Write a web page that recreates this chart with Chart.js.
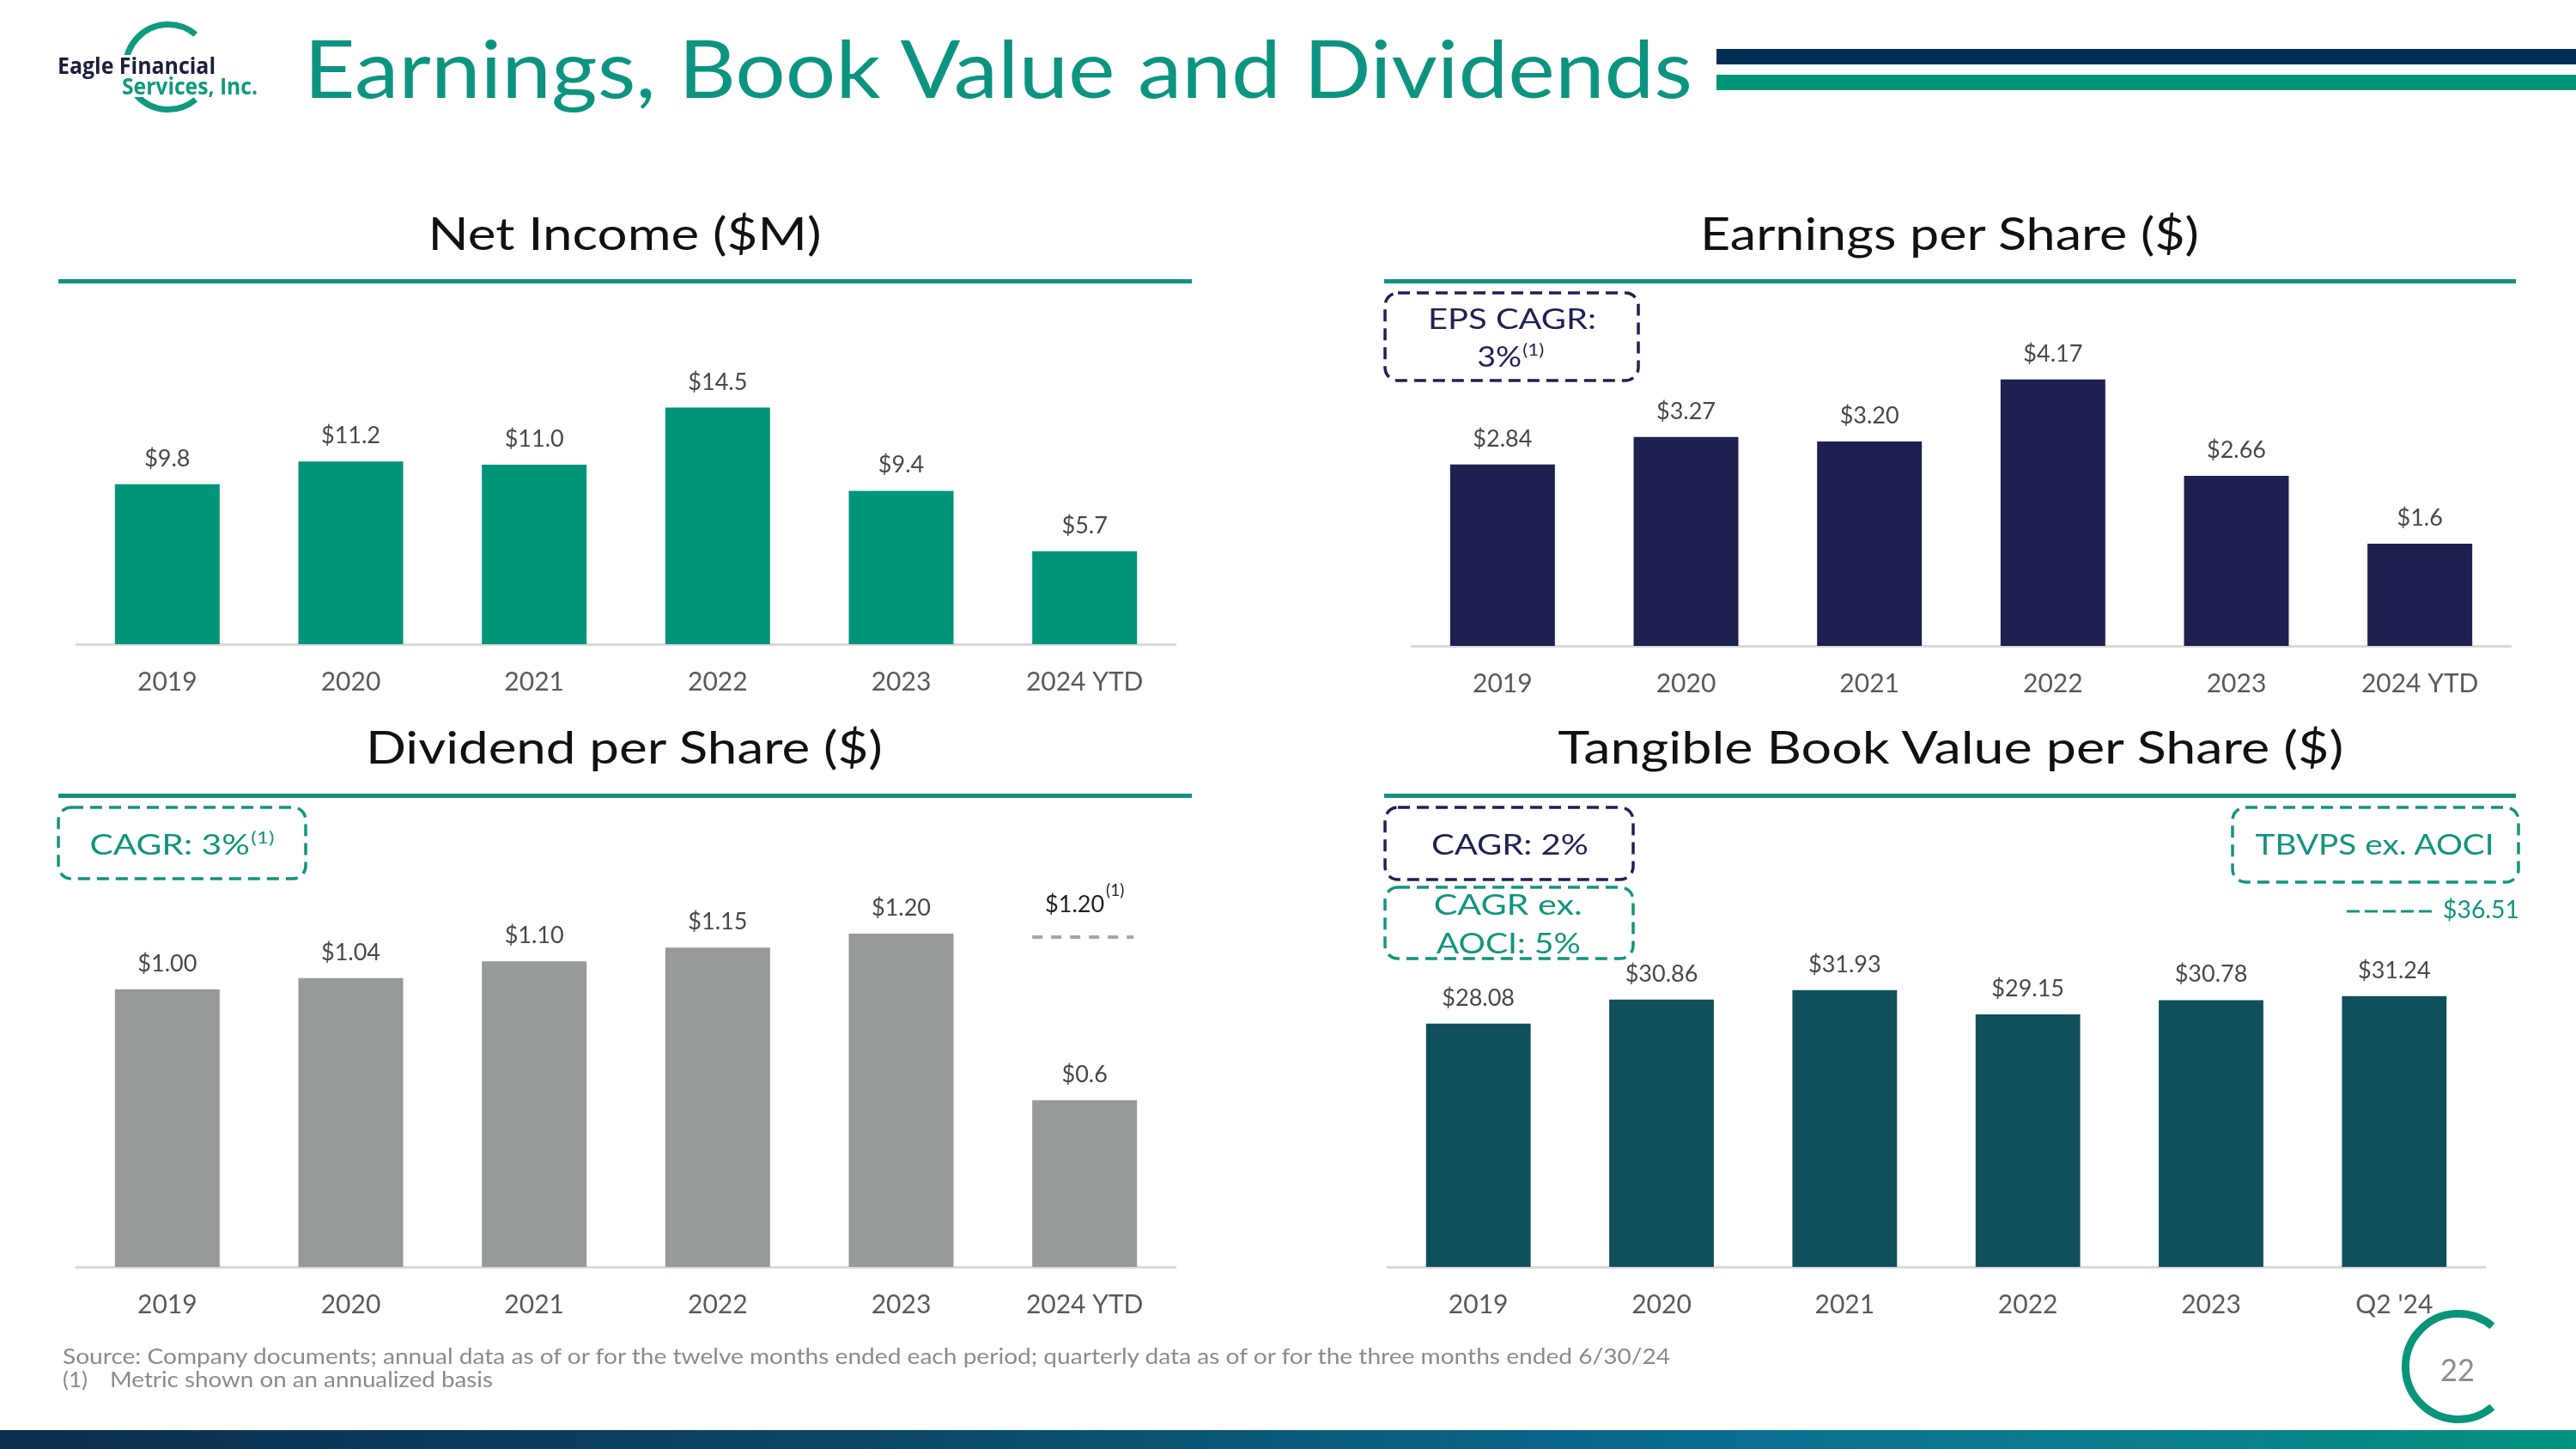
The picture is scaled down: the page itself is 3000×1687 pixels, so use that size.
<!DOCTYPE html>
<html>
<head>
<meta charset="utf-8">
<script src="https://cdn.jsdelivr.net/npm/chart.js@4.4.0/dist/chart.umd.min.js"></script>
<style>
html,body{margin:0;padding:0;background:#fff;}
#page{position:relative;width:3000px;height:1687px;overflow:hidden;background:#fff;font-family:Lato,sans-serif;}
canvas{position:absolute;}
svg{position:absolute;left:0;top:0;}
.t{position:absolute;white-space:nowrap;line-height:1;}
.sup{font-size:0.6em;position:relative;top:-0.65em;margin-left:1px;}
</style>
</head>
<body>
<div id="page">
<canvas id="c1" width="1282" height="460" style="left:88px;top:370px"></canvas>
<canvas id="c2" width="1282" height="452" style="left:1643px;top:380px"></canvas>
<canvas id="c3" width="1282" height="565" style="left:88px;top:990px"></canvas>
<canvas id="c4" width="1280" height="534" style="left:1615px;top:1021px"></canvas>
<svg width="3000" height="1687" viewBox="0 0 3000 1687">
  <defs>
    <linearGradient id="bottomGrad" x1="0" x2="1" y1="0" y2="0">
      <stop offset="0" stop-color="#0c2e50"/>
      <stop offset="0.35" stop-color="#0b4866"/>
      <stop offset="0.65" stop-color="#0b6c90"/>
      <stop offset="0.85" stop-color="#0a7f8e"/>
      <stop offset="1" stop-color="#03937f"/>
    </linearGradient>
  </defs>
  <rect x="0" y="1665" width="3000" height="22" fill="url(#bottomGrad)"/>
  <rect x="1999" y="57" width="1001" height="18" fill="#002f56"/>
  <rect x="1999" y="87" width="1001" height="18" fill="#009479"/>
  <rect x="68" y="325" width="1320" height="5" fill="#12927d"/>
  <rect x="1612" y="325" width="1318" height="5" fill="#12927d"/>
  <rect x="68" y="924" width="1320" height="5" fill="#12927d"/>
  <rect x="1612" y="924" width="1318" height="5" fill="#12927d"/>
  <path d="M 227.8 115.9 A 49.5 49.5 0 1 1 227.8 40.1" fill="none" stroke="#0f9a7c" stroke-width="7"/>
  <rect x="60" y="64" width="246" height="49" fill="#fff"/>
  <path d="M 2902.5 1638.1 A 61.5 61.5 0 1 1 2902.5 1543.9" fill="none" stroke="#0a9479" stroke-width="9"/>
  <g fill="none" stroke-width="3.5" stroke-dasharray="14 8">
    <rect x="1613" y="341" width="295" height="102" rx="15" stroke="#1f2151"/>
    <rect x="68" y="940" width="288" height="83" rx="15" stroke="#12947e"/>
    <rect x="1613" y="940" width="289" height="84" rx="15" stroke="#1f2151"/>
    <rect x="1613" y="1033" width="289" height="83" rx="15" stroke="#12947e"/>
    <rect x="2600" y="940" width="333" height="87" rx="15" stroke="#12947e"/>
  </g>
  <line x1="2733" y1="1061" x2="2833" y2="1061" stroke="#12947e" stroke-width="3" stroke-dasharray="15 6"/>
</svg>
</div>
<script>
// ---------- data ----------
const categories = ['2019', '2020', '2021', '2022', '2023', '2024 YTD'];
const tbvCategories = ['2019', '2020', '2021', '2022', '2023', "Q2 '24"];

const netIncome = [9.8, 11.2, 11.0, 14.5, 9.4, 5.7];
const netIncomeLabels = ['$9.8', '$11.2', '$11.0', '$14.5', '$9.4', '$5.7'];

const eps = [2.84, 3.27, 3.20, 4.17, 2.66, 1.6];
const epsLabels = ['$2.84', '$3.27', '$3.20', '$4.17', '$2.66', '$1.6'];

const dividends = [1.00, 1.04, 1.10, 1.15, 1.20, 0.6];
const dividendLabels = ['$1.00', '$1.04', '$1.10', '$1.15', '$1.20', '$0.6'];
const dividendAnnualized = [null, null, null, null, null, 1.20];
const dividendAnnualizedLabels = [null, null, null, null, null, '$1.20'];

const tbvps = [28.08, 30.86, 31.93, 29.15, 30.78, 31.24];
const tbvpsLabels = ['$28.08', '$30.86', '$31.93', '$29.15', '$30.78', '$31.24'];

// ---------- chart setup ----------
Chart.defaults.font.family = 'Lato, sans-serif';
Chart.defaults.animation = false;

const valueLabels = {
  id: 'valueLabels',
  afterDatasetsDraw(chart, args, opts) {
    const ctx = chart.ctx;
    const meta = chart.getDatasetMeta(0);
    ctx.save();
    ctx.textAlign = 'center';
    ctx.textBaseline = 'alphabetic';
    ctx.font = '27px Lato, sans-serif';
    ctx.fillStyle = '#484848';
    meta.data.forEach((bar, i) => {
      if (opts.texts && opts.texts[i] != null) ctx.fillText(opts.texts[i], bar.x, bar.y - 21);
    });
    if (opts.annualized) {
      const ys = chart.scales.y;
      opts.annualized.forEach((v, i) => {
        if (v == null) return;
        const bar = meta.data[i];
        const y = ys.getPixelForValue(v) + 4;
        const half = bar.width / 2;
        ctx.save();
        ctx.setLineDash([12, 10]);
        ctx.lineWidth = 4;
        ctx.strokeStyle = '#a6a6a6';
        ctx.beginPath();
        ctx.moveTo(bar.x - half, y);
        ctx.lineTo(bar.x + half - 4, y);
        ctx.stroke();
        ctx.restore();
        const main = opts.annualizedTexts[i];
        ctx.font = '27px Lato, sans-serif';
        const wMain = ctx.measureText(main).width;
        ctx.font = '19px Lato, sans-serif';
        const wSup = ctx.measureText('(1)').width;
        const x0 = bar.x - (wMain + wSup + 2) / 2;
        ctx.textAlign = 'left';
        ctx.fillStyle = '#1f1f1f';
        ctx.font = '27px Lato, sans-serif';
        ctx.fillText(main, x0, y - 29);
        ctx.font = '19px Lato, sans-serif';
        ctx.fillText('(1)', x0 + wMain + 2, y - 48);
        ctx.textAlign = 'center';
      });
    }
    ctx.restore();
  }
};

function makeBar(id, labels, values, color, texts, yMax, annualized, annualizedTexts) {
  return new Chart(document.getElementById(id), {
    type: 'bar',
    data: {
      labels: labels,
      datasets: [{
        data: values,
        backgroundColor: color,
        borderWidth: 0,
        barPercentage: 0.571,
        categoryPercentage: 1
      }]
    },
    options: {
      responsive: false,
      animation: false,
      layout: { padding: 0 },
      plugins: {
        legend: { display: false },
        tooltip: { enabled: false },
        valueLabels: { texts: texts, annualized: annualized, annualizedTexts: annualizedTexts }
      },
      scales: {
        x: {
          grid: { display: false, drawTicks: false },
          border: { display: true, color: '#d9d9d9', width: 3 },
          ticks: { color: '#595959', font: { size: 30 }, padding: 26, maxRotation: 0, autoSkip: false },
          afterFit: (s) => { s.height = 80; }
        },
        y: { display: false, min: 0, max: yMax }
      }
    },
    plugins: [valueLabels]
  });
}

makeBar('c1', categories, netIncome, '#009479', netIncomeLabels, 20);
makeBar('c2', categories, eps, '#1e2050', epsLabels, 5);
makeBar('c3', categories, dividends, '#969a9a', dividendLabels, 1.5, dividendAnnualized, dividendAnnualizedLabels);
makeBar('c4', tbvCategories, tbvps, '#0f505c', tbvpsLabels, 45);

// ---------- text ----------
const NAVY = '#1f2151';
const TEAL = '#12947e';
const textItems = [
  { html: 'Earnings, Book Value and Dividends', x: 354, w: 1617, cy: 81, size: 94, color: '#0d9480', align: 'left' },
  { html: 'Eagle Financial', x: 67, w: 184, cy: 76.5, size: 27, color: '#1b1f3b', weight: 700, family: '"Open Sans", sans-serif', align: 'left' },
  { html: 'Services, Inc.', x: 142, w: 158, cy: 101, size: 26, color: '#0f9a7c', weight: 700, family: '"Open Sans", sans-serif', align: 'left' },
  { html: 'Net Income ($M)', x: 727, w: 458, cy: 273, size: 52, color: '#111', align: 'center' },
  { html: 'Earnings per Share ($)', x: 2270, w: 581, cy: 273, size: 52, color: '#111', align: 'center' },
  { html: 'Dividend per Share ($)', x: 727, w: 602, cy: 871, size: 52, color: '#111', align: 'center' },
  { html: 'Tangible Book Value per Share ($)', x: 2272, w: 915, cy: 871, size: 52, color: '#111', align: 'center' },
  { html: 'EPS CAGR:', x: 1761, w: 196, cy: 371.5, size: 33, color: NAVY, align: 'center' },
  { html: '3%<span class="sup">(1)</span>', x: 1759, w: 78, cy: 415, size: 33, color: NAVY, align: 'center' },
  { html: 'CAGR: 3%<span class="sup">(1)</span>', x: 211.5, w: 215, cy: 983, size: 33, color: TEAL, align: 'center' },
  { html: 'CAGR: 2%', x: 1758, w: 183, cy: 983, size: 33, color: NAVY, align: 'center' },
  { html: 'CAGR ex.', x: 1756, w: 173, cy: 1053, size: 33, color: TEAL, align: 'center' },
  { html: 'AOCI: 5%', x: 1757, w: 168, cy: 1098, size: 33, color: TEAL, align: 'center' },
  { html: 'TBVPS ex. AOCI', x: 2766, w: 278, cy: 983, size: 33, color: TEAL, align: 'center' },
  { html: '$36.51', x: 2845, w: 89, cy: 1058.5, size: 29, color: TEAL, align: 'left' },
  { html: 'Source: Company documents; annual data as of or for the twelve months ended each period; quarterly data as of or for the three months ended 6/30/24', x: 73, w: 1872, cy: 1579, size: 25, color: '#8a8a8a', align: 'left' },
  { html: '(1)', x: 73, w: 29, cy: 1606, size: 25, color: '#8a8a8a', align: 'left' },
  { html: 'Metric shown on an annualized basis', x: 128, w: 446, cy: 1606, size: 25, color: '#8a8a8a', align: 'left' },
  { html: '22', x: 2842, w: 40, cy: 1595, size: 37, color: '#8c8c8c', align: 'left' }
];

const page = document.getElementById('page');
textItems.forEach(it => {
  const d = document.createElement('div');
  d.className = 't';
  d.innerHTML = it.html;
  d.style.fontSize = it.size + 'px';
  d.style.color = it.color;
  if (it.weight) d.style.fontWeight = it.weight;
  if (it.family) d.style.fontFamily = it.family;
  d.style.top = (it.cy - 0.53 * it.size) + 'px';
  page.appendChild(d);
  const nat = d.getBoundingClientRect().width;
  const s = it.w / nat;
  if (it.align === 'center') {
    d.style.left = (it.x - nat / 2) + 'px';
    d.style.transformOrigin = '50% 50%';
  } else {
    d.style.left = it.x + 'px';
    d.style.transformOrigin = '0 50%';
  }
  d.style.transform = 'scaleX(' + s.toFixed(4) + ')';
});
</script>
</body>
</html>
